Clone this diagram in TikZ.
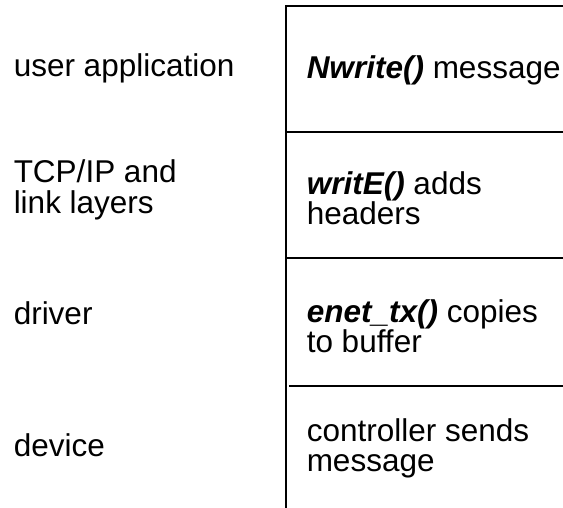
\documentclass[tikz,border=0pt]{standalone}
\usepackage{fontspec}
\setmainfont{Liberation Sans}
\usetikzlibrary{positioning}
\definecolor{ink}{HTML}{000000}

\newcommand{\fn}[1]{\textbf{\textit{#1}}}

\begin{document}
\begin{tikzpicture}[x=1pt,y=-1pt,line width=1.5pt,draw=ink,text=ink,
  layer/.style={anchor=west,align=left,inner sep=0pt,
    font=\fontsize{31.5}{31.5}\selectfont},
  task/.style={layer,font=\fontsize{31.5}{30}\selectfont}]
  \useasboundingbox (0,0) rectangle (563,508);

  % stack of boxes, open to the right
  \draw (563,6) -- (286,6) -- (286,508);
  \foreach \yy in {132,258}{
    \draw (286,\yy) -- (563,\yy);
  }
  \draw (289,386) -- (563,386);

  % layer names
  \node[layer] (app) at (13,68) {user application};
  \node[layer] (tcp) at (13,190) {TCP/IP and\\link layers};
  \node[layer] (drv) at (13,313) {driver};
  \node[layer] (dev) at (13,445) {device};

  % what each layer does
  \node[task] (nwrite) at (306,70) {\fn{Nwrite()} message};
  \node[task] (writee) at (306,198) {\fn{writE()} adds\\headers};
  \node[task] (enet) at (306,326) {\fn{enet\_tx()} copies\\to buffer};
  \node[task] (ctrl) at (306,448) {controller sends\\message};
\end{tikzpicture}
\end{document}
